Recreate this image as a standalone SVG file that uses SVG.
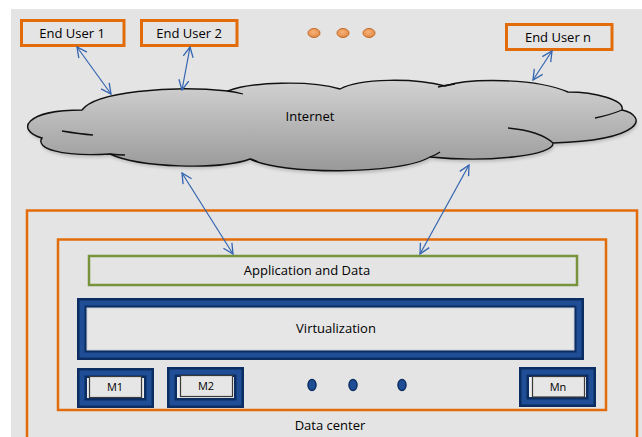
<svg xmlns="http://www.w3.org/2000/svg" width="642" height="437" viewBox="0 0 642 437">
  <style>
    .lbl { font-family: "Open Sans", "Liberation Sans", Arial, sans-serif; fill: #000; font-weight: 500; text-anchor: middle; font-size: 13px; }
    .small { font-size: 11px; }
    .user { fill: #e4e4e4; stroke: #e36c0a; stroke-width: 3; }
    .zone { fill: none; stroke: #e36c0a; stroke-width: 2.5; }
    .frame-dark { fill: none; stroke: #0b2d62; stroke-width: 10; }
    .frame-mid { fill: none; stroke: #1f4e96; stroke-width: 5; }
    .inner { fill: #e6e6e6; stroke: #3a3a3a; stroke-width: 1.2; }
    .link { fill: none; stroke: #3465b0; stroke-width: 1.2; marker-start: url(#head); marker-end: url(#head); }
    .stub { fill: none; stroke: #111; stroke-width: 1.3; }
  </style>
  <defs>
    <marker id="head" viewBox="0 0 12 12" refX="11" refY="6" markerWidth="12" markerHeight="12" markerUnits="userSpaceOnUse" orient="auto-start-reverse">
      <path d="M1,1 L11,6 L1,11" fill="none" stroke="#3465b0" stroke-width="1.3"/>
    </marker>
    <linearGradient id="cloudFill" x1="0" y1="0" x2="0" y2="1">
      <stop offset="0" stop-color="#d2d2d2"/>
      <stop offset="1" stop-color="#999999"/>
    </linearGradient>
    <radialGradient id="dotOrange" cx="0.45" cy="0.4" r="0.6">
      <stop offset="0" stop-color="#f7b27a"/>
      <stop offset="1" stop-color="#e08a45"/>
    </radialGradient>
    <filter id="soft" x="-5%" y="-10%" width="110%" height="130%">
      <feGaussianBlur stdDeviation="1.5"/>
    </filter>
  </defs>

  <!-- page -->
  <rect width="642" height="437" fill="#ffffff"/>
  <rect x="11" y="9" width="631" height="428" fill="#e4e4e4"/>

  <!-- end users -->
  <g id="end-user-1">
    <rect class="user" x="21.5" y="20.5" width="102.5" height="25"/>
    <text class="lbl" x="72" y="38">End User 1</text>
  </g>
  <g id="end-user-2">
    <rect class="user" x="141.5" y="20.5" width="95.5" height="25"/>
    <text class="lbl" x="189" y="38">End User 2</text>
  </g>
  <g id="user-ellipsis">
    <ellipse cx="314" cy="33" rx="6" ry="4.5" fill="url(#dotOrange)" stroke="#c46a28" stroke-width="1"/>
    <ellipse cx="343" cy="33" rx="6" ry="4.5" fill="url(#dotOrange)" stroke="#c46a28" stroke-width="1"/>
    <ellipse cx="369" cy="33" rx="6" ry="4.5" fill="url(#dotOrange)" stroke="#c46a28" stroke-width="1"/>
  </g>
  <g id="end-user-n">
    <rect class="user" x="506.5" y="24.5" width="105.5" height="25"/>
    <text class="lbl" x="558" y="42">End User n</text>
  </g>

  <!-- internet cloud -->
  <g id="internet">
    <path d="M82,110 C95,92 170,85 228,91 C250,82 310,80 340,89 C360,78 415,78 445,86 C470,78 535,78 568,92 C595,92 625,100 622,110 C648,116 645,140 553,143 C555,155 490,163 430,157 C400,175 280,175 250,159 C220,170 140,168 110,154 C60,157 35,148 42,138 C15,130 25,110 82,110 Z" fill="#777" opacity="0.35" filter="url(#soft)" transform="translate(1,3)"/>
    <path d="M82,110 C95,92 170,85 228,91 C250,82 310,80 340,89 C360,78 415,78 445,86 C470,78 535,78 568,92 C595,92 625,100 622,110 C648,116 645,140 553,143 C555,155 490,163 430,157 C400,175 280,175 250,159 C220,170 140,168 110,154 C60,157 35,148 42,138 C15,130 25,110 82,110 Z" fill="url(#cloudFill)" stroke="#111" stroke-width="1.4"/>
    <path class="stub" d="M227,91 Q236,92 243,94"/>
    <path class="stub" d="M438,87 Q446,85 455,84"/>
    <path class="stub" d="M62,131 Q80,134 93,135"/>
    <path class="stub" d="M110,154 Q118,155 125,155"/>
    <path class="stub" d="M250,159 Q254,160 258,162"/>
    <path class="stub" d="M430,157 Q436,155 440,152"/>
    <path class="stub" d="M622,110 Q610,115 595,118"/>
    <path class="stub" d="M508,128 Q540,131 553,143"/>
    <text class="lbl" x="310" y="121">Internet</text>
  </g>

  <!-- data center -->
  <g id="data-center">
    <rect class="zone" x="27" y="210.5" width="610" height="240"/>
    <text class="lbl" x="330" y="430">Data center</text>
  </g>
  <g id="server-cluster">
    <rect class="zone" x="58" y="239.5" width="548" height="170.5"/>
  </g>
  <g id="application-data">
    <rect x="89" y="256" width="488" height="29" fill="#e4e4e4" stroke="#77933c" stroke-width="2.5"/>
    <text class="lbl" x="307" y="275">Application and Data</text>
  </g>
  <g id="virtualization">
    <rect class="frame-dark" x="82" y="303" width="497" height="52"/>
    <rect class="frame-mid" x="82" y="303" width="497" height="52"/>
    <rect x="87" y="308" width="487" height="42" fill="#e6e6e6" stroke="#c8cdd6" stroke-width="1"/>
    <text class="lbl" x="336" y="333">Virtualization</text>
  </g>
  <g id="machine-1">
    <rect class="frame-dark" x="82" y="373" width="67" height="30"/>
    <rect class="frame-mid" x="82" y="373" width="67" height="30"/>
    <rect x="87" y="378" width="57" height="20" fill="#ececec"/>
    <rect class="inner" x="89.5" y="376.5" width="52" height="21"/>
    <text class="lbl small" x="115" y="391">M1</text>
  </g>
  <g id="machine-2">
    <rect class="frame-dark" x="172" y="372" width="67" height="31"/>
    <rect class="frame-mid" x="172" y="372" width="67" height="31"/>
    <rect x="177" y="377" width="57" height="21" fill="#ececec"/>
    <rect class="inner" x="180.5" y="375.5" width="52" height="21"/>
    <text class="lbl small" x="206" y="390">M2</text>
  </g>
  <g id="machine-ellipsis">
    <ellipse cx="312" cy="385" rx="4" ry="5.5" fill="#1f4e96" stroke="#0b2d62" stroke-width="1.5"/>
    <ellipse cx="353" cy="385" rx="4" ry="5.5" fill="#1f4e96" stroke="#0b2d62" stroke-width="1.5"/>
    <ellipse cx="402" cy="385" rx="4" ry="5.5" fill="#1f4e96" stroke="#0b2d62" stroke-width="1.5"/>
  </g>
  <g id="machine-n">
    <rect class="frame-dark" x="524" y="372" width="67" height="30"/>
    <rect class="frame-mid" x="524" y="372" width="67" height="30"/>
    <rect x="529" y="377" width="57" height="20" fill="#ececec"/>
    <rect class="inner" x="532.5" y="376.5" width="52" height="20.5"/>
    <text class="lbl small" x="558" y="391">Mn</text>
  </g>

  <!-- connectors -->
  <g id="connectors">
    <line class="link" x1="77" y1="47" x2="111" y2="94"/>
    <line class="link" x1="190" y1="47" x2="182" y2="90"/>
    <line class="link" x1="552" y1="51" x2="533" y2="80"/>
    <line class="link" x1="182" y1="173" x2="233" y2="254"/>
    <line class="link" x1="469" y1="165" x2="420" y2="254"/>
  </g>
</svg>
